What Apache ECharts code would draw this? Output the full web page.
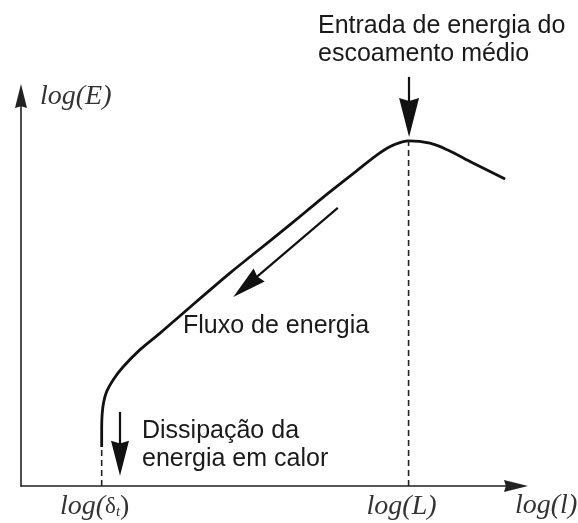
<!DOCTYPE html>
<html>
<head>
<meta charset="utf-8">
<script src="https://cdn.jsdelivr.net/npm/echarts@6/dist/echarts.min.js"></script>
<style>
  html, body { margin: 0; padding: 0; background: #fff; }
  #chart { width: 578px; height: 523px; }
</style>
</head>
<body>
<div id="chart"></div>
<script>
// Energy spectrum sketch: log(E) against log(l)
const specX = [1.63, 1.63, 1.64, 1.67, 1.73, 1.86, 2.06, 2.40, 2.81, 3.21, 3.72, 4.22, 4.73, 5.23, 5.74, 6.24, 6.75, 7.25, 7.52, 7.83, 8.26, 8.61, 9.13, 9.78];
const specY = [1.00, 1.51, 1.85, 2.15, 2.42, 2.72, 3.05, 3.49, 3.92, 4.36, 4.92, 5.46, 5.98, 6.49, 7.02, 7.54, 8.05, 8.54, 8.74, 8.85, 8.79, 8.62, 8.28, 7.87];

// Characteristic scales on the log(l) axis
const LOG_DT = 1.63;   // log(δt)
const LOG_L = 7.83;    // log(L)
const tickValues = [LOG_DT, LOG_L];

// Dashed guide lines: [x, yBottom, yTop]
const guideDt = [LOG_DT, 0, 1.00];
const guideL = [LOG_L, 0, 8.85];

// Annotation arrows: [x0, y0, x1, y1] (start, head centre)
const arrowIn = [7.84, 10.49, 7.84, 9.45];
const arrowFlux = [6.40, 7.13, 4.55, 5.13];
const arrowDiss = [2.00, 1.90, 2.00, 0.71];

const HEAD = 'path://M5,0L10,20L5,18.5L0,20Z';
const SANS = '25px "Liberation Sans", Arial, sans-serif';
const SERIF = 'italic 28px "Liberation Serif", "Times New Roman", serif';

const chart = echarts.init(document.getElementById('chart'), null, { renderer: 'canvas' });

function arrowLine(a, w, h) {
  return [
    { coord: [a[0], a[1]], symbol: 'none' },
    { coord: [a[2], a[3]], symbol: HEAD, symbolSize: [w, h] }
  ];
}

const hiddenAxis = {
  type: 'value', show: false, min: 0,
  splitLine: { show: false }, axisLine: { show: false },
  axisTick: { show: false }, axisLabel: { show: false }
};

const option = {
  animation: false,
  backgroundColor: '#fff',
  grid: [
    { left: 21, right: 62, top: 96, bottom: 37, containLabel: false },
    // same scale, taller range for annotations above the plot
    { left: 21, right: 62, top: 18, bottom: 37, containLabel: false }
  ],
  xAxis: [{
    type: 'value', min: 0, max: 10, gridIndex: 0,
    splitLine: { show: false },
    axisTick: { show: false },
    axisLine: {
      show: true, onZero: false,
      lineStyle: { color: '#222', width: 1.6 },
      symbol: ['none', HEAD], symbolSize: [12, 28]
    },
    axisLabel: {
      show: true,
      customValues: tickValues,
      margin: 7,
      padding: [0, 14, 0, 0],
      formatter: v => v === LOG_DT ? '{i|log(}{g|δ}{s|t}{p|)}' : '{i|log(L)}',
      rich: {
        i: { fontFamily: '"Liberation Serif", serif', fontStyle: 'italic', fontSize: 28, color: '#333', lineHeight: 28 },
        g: { fontFamily: '"Liberation Serif", serif', fontSize: 23, color: '#333', lineHeight: 28 },
        s: { fontFamily: '"Liberation Serif", serif', fontStyle: 'italic', fontSize: 15, color: '#333', padding: [10, 0, 0, 0], lineHeight: 28 },
        p: { fontFamily: '"Liberation Serif", serif', fontSize: 28, color: '#333', lineHeight: 28 }
      }
    }
  }, Object.assign({}, hiddenAxis, { gridIndex: 1, max: 10 })],
  yAxis: [{
    type: 'value', min: 0, max: 10, gridIndex: 0,
    splitLine: { show: false },
    axisTick: { show: false },
    axisLabel: { show: false },
    axisLine: {
      show: true, onZero: false,
      lineStyle: { color: '#222', width: 1.6 },
      symbol: ['none', HEAD], symbolSize: [12, 26]
    }
  }, Object.assign({}, hiddenAxis, { gridIndex: 1, max: 12 })],
  series: [
    {
      type: 'line',
      data: specX.map((x, i) => [x, specY[i]]),
      smooth: 0.35,
      symbol: 'none',
      clip: false,
      lineStyle: { color: '#111', width: 2.8 }
    },
    {
      type: 'line',
      data: [[guideDt[0], guideDt[1]], [guideDt[0], guideDt[2]]],
      symbol: 'none',
      lineStyle: { color: '#222', width: 1.6, type: [6, 4] }
    },
    {
      type: 'line',
      data: [[guideL[0], guideL[1]], [guideL[0], guideL[2]]],
      symbol: 'none',
      lineStyle: { color: '#222', width: 1.6, type: [6, 4] }
    },
    {
      // carrier for the annotation arrows
      type: 'line',
      xAxisIndex: 1, yAxisIndex: 1,
      data: [],
      symbol: 'none',
      markLine: {
        silent: true,
        symbol: ['none', HEAD],
        label: { show: false },
        lineStyle: { color: '#111', width: 2.2, type: 'solid' },
        data: [
          arrowLine(arrowIn, 20, 39),
          arrowLine(arrowFlux, 17, 34),
          arrowLine(arrowDiss, 18, 35)
        ]
      }
    }
  ],
  graphic: [
    { type: 'text', x: 318, y: 12, style: { text: 'Entrada de energia do\nescoamento médio', font: SANS, fill: '#1a1a1a', lineHeight: 28, verticalAlign: 'top' } },
    { type: 'text', x: 183, y: 312, style: { text: 'Fluxo de energia', font: SANS, fill: '#1a1a1a', lineHeight: 28, verticalAlign: 'top' } },
    { type: 'text', x: 142, y: 417, style: { text: 'Dissipação da\nenergia em calor', font: SANS, fill: '#1a1a1a', lineHeight: 28, verticalAlign: 'top' } },
    { type: 'text', x: 40, y: 83, style: { text: 'log(E)', font: SERIF, fill: '#333', lineHeight: 28, verticalAlign: 'top' } },
    { type: 'text', x: 515, y: 492, style: { text: 'log(l)', font: SERIF, fill: '#333', lineHeight: 28, verticalAlign: 'top' } }
  ]
};

chart.setOption(option);
</script>
</body>
</html>
